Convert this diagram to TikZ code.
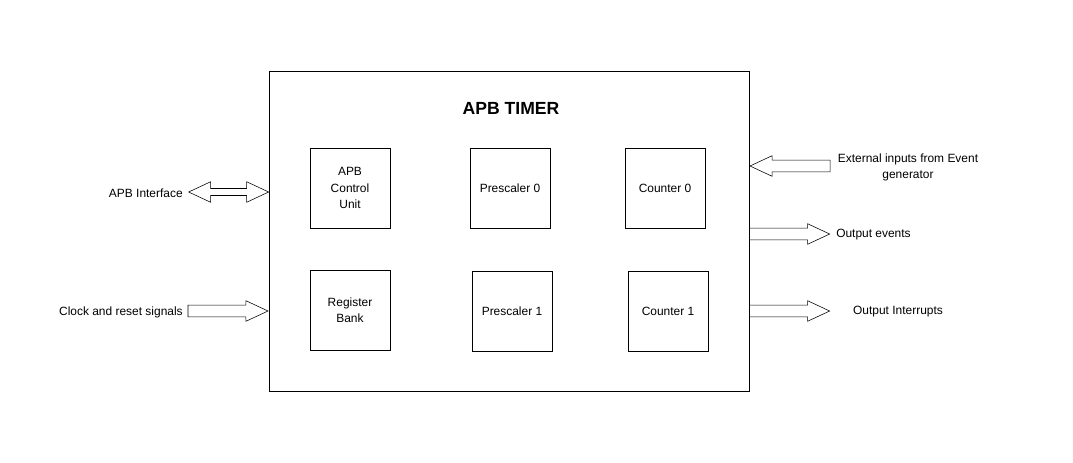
\documentclass[tikz,border=0pt]{standalone}
\usepackage{fontspec}
\setmainfont{Liberation Sans}
\usetikzlibrary{
  positioning,
  shapes.arrows,
  calc
}

\begin{document}
\begin{tikzpicture}[
  x=0.025cm, y=-0.025cm,
  every node/.style={font=\fontsize{8.5}{11.5}\selectfont},
  unitbox/.style={draw, thin, minimum width=2cm, minimum height=2cm,
               inner sep=0pt, align=center},
  inarrow/.style={single arrow, draw, thin, inner sep=0pt, inner ysep=0.14cm,
               single arrow head extend=0.11cm, single arrow tip angle=50,
               minimum height=2cm},
  bidiarrow/.style={double arrow, draw, thin, inner sep=0pt, inner ysep=0.08cm,
               double arrow head extend=0.17cm, double arrow tip angle=50,
               minimum height=2cm},
  sigtext/.style={align=center, inner sep=0pt}
]
\useasboundingbox (0,0) rectangle (1073,462);

% timer block
\node[draw, thin, minimum width=12cm, minimum height=8cm, inner sep=0pt]
  (timer) at (509,231) {};
\node[font=\fontsize{12.5}{14}\selectfont\bfseries] (title) at (511,108) {APB TIMER};

% inner units
\node[unitbox] (apbctrl) at (350,188) {APB\\Control\\Unit};
\node[unitbox] (pre0) at (510,188) {Prescaler 0};
\node[unitbox] (cnt0) at (665,188) {Counter 0};
\node[unitbox] (regbank) at (350,310) {Register\\Bank};
\node[unitbox] (pre1) at (512,311) {Prescaler 1};
\node[unitbox] (cnt1) at (668,311) {Counter 1};

% signal labels
\node[sigtext, anchor=east] (apbif) at (183,193) {APB Interface};
\node[sigtext, anchor=east] (clkrst) at (183,312) {Clock and reset signals};
\node[sigtext] (extin) at (908,167) {External inputs from Event\\generator};
\node[sigtext, anchor=west] (outev) at (836,235) {Output events};
\node[sigtext] (outirq) at (898,312) {Output Interrupts};

% block arrows
\node[bidiarrow, anchor=center] (apbarr) at ($(timer.west |- apbif)+(-40,-1)$) {};
\node[inarrow, anchor=tip] (clkarr) at ($(timer.west |- clkrst)+(0,-1)$) {};
\node[inarrow, shape border rotate=180, anchor=tip] (extarr) at ($(timer.east |- extin)+(0,-1)$) {};
\node[inarrow, anchor=tail] (evarr) at ($(timer.east |- outev)+(0,-1)$) {};
\node[inarrow, anchor=tail] (irqarr) at ($(timer.east |- outirq)+(0,-1)$) {};

\end{tikzpicture}
\end{document}
